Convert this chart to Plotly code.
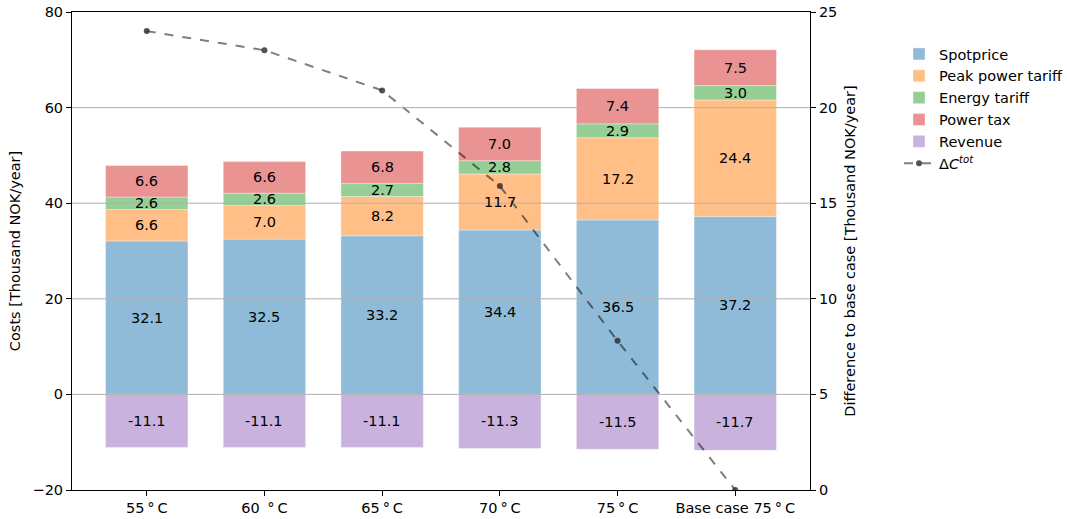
import plotly.graph_objects as go

categories = ["55\u2009°\u2009C", "60 \u2009°\u2009C", "65\u2009°\u2009C", "70\u2009°\u2009C", "75\u2009°\u2009C", "Base case 75\u2009°\u2009C"]
spotprice = [32.1, 32.5, 33.2, 34.4, 36.5, 37.2]
peak_tariff = [6.6, 7.0, 8.2, 11.7, 17.2, 24.4]
energy_tariff = [2.6, 2.6, 2.7, 2.8, 2.9, 3.0]
power_tax = [6.6, 6.6, 6.8, 7.0, 7.4, 7.5]
revenue = [-11.1, -11.1, -11.1, -11.3, -11.5, -11.7]
delta_ctot = [24.0, 23.0, 20.9, 15.9, 7.8, 0.0]
left_ticks = [-20, 0, 20, 40, 60, 80]
right_ticks = [0, 5, 10, 15, 20, 25]

FONT = "DejaVu Sans"
FS = 14.5
series = [
    ("Spotprice", spotprice, "rgba(31,119,180,0.5)"),
    ("Peak power tariff", peak_tariff, "rgba(255,127,14,0.5)"),
    ("Energy tariff", energy_tariff, "rgba(44,160,44,0.5)"),
    ("Power tax", power_tax, "rgba(214,39,40,0.5)"),
    ("Revenue", revenue, "rgba(148,103,189,0.5)"),
]

fig = go.Figure()
for name, vals, col in series:
    fig.add_trace(go.Bar(x=categories, y=vals, name=name, width=0.7,
                         marker=dict(color=col, line=dict(width=0.6, color="rgba(255,255,255,0.6)")),
                         yaxis="y"))

# labels at segment centres
annotations = []
pos_base = [0.0] * len(categories)
for name, vals, col in series:
    for i, v in enumerate(vals):
        if v >= 0:
            mid = pos_base[i] + v / 2
            pos_base[i] += v
        else:
            mid = v / 2
        annotations.append(dict(x=categories[i], y=mid, xref="x", yref="y", text=f"{v:.1f}",
                                showarrow=False, font=dict(family=FONT, size=FS, color="black")))

fig.add_trace(go.Scatter(x=categories, y=delta_ctot, name="Δ<i>C</i><sup><i>tot</i></sup>", yaxis="y2",
                         mode="lines+markers",
                         line=dict(color="rgba(0,0,0,0.5)", width=2, dash="dash"),
                         marker=dict(color="rgba(40,40,40,0.8)", size=6)))

shapes = []
for t in left_ticks[1:-1]:
    shapes.append(dict(type="line", xref="paper", x0=0, x1=1, yref="y", y0=t, y1=t,
                       line=dict(color="#b0b0b0", width=1), layer="above"))

fig.update_layout(
    width=1067, height=519,
    margin=dict(l=72, r=257, t=12, b=29, autoexpand=False),
    plot_bgcolor="white", paper_bgcolor="white",
    barmode="relative", bargap=0.3,
    font=dict(family=FONT, size=FS, color="black"),
    showlegend=True,
    legend=dict(x=1.1206, y=0.9456, xanchor="left", yanchor="top", traceorder="normal",
                font=dict(family=FONT, size=FS), bgcolor="rgba(0,0,0,0)", itemwidth=30),
    xaxis=dict(range=[-0.635, 5.635], showline=True, linecolor="black", linewidth=1, mirror=True,
               ticks="outside", ticklen=5, tickcolor="black", showgrid=False, automargin=False,
               tickfont=dict(family=FONT, size=FS)),
    yaxis=dict(range=[-20, 80], tickvals=left_ticks, showline=True, linecolor="black", linewidth=1,
               ticks="outside", ticklen=5, tickcolor="black", showgrid=False, zeroline=False,
               automargin=False,
               title=dict(text="Costs [Thousand NOK/year]", font=dict(family=FONT, size=FS), standoff=8),
               tickfont=dict(family=FONT, size=FS)),
    yaxis2=dict(range=[0, 25], tickvals=right_ticks, overlaying="y", side="right", showline=True,
                linecolor="black", linewidth=1, ticks="outside", ticklen=5, tickcolor="black",
                showgrid=False, zeroline=False, automargin=False,
                title=dict(text="Difference to base case [Thousand NOK/year]", font=dict(family=FONT, size=FS), standoff=8),
                tickfont=dict(family=FONT, size=FS)),
    annotations=annotations,
    shapes=shapes,
)

# remove the default 8px page margin so the figure fills the window exactly
fig.write_html("out.html", config={"displayModeBar": False},
               post_script="document.body.style.margin='0';")
